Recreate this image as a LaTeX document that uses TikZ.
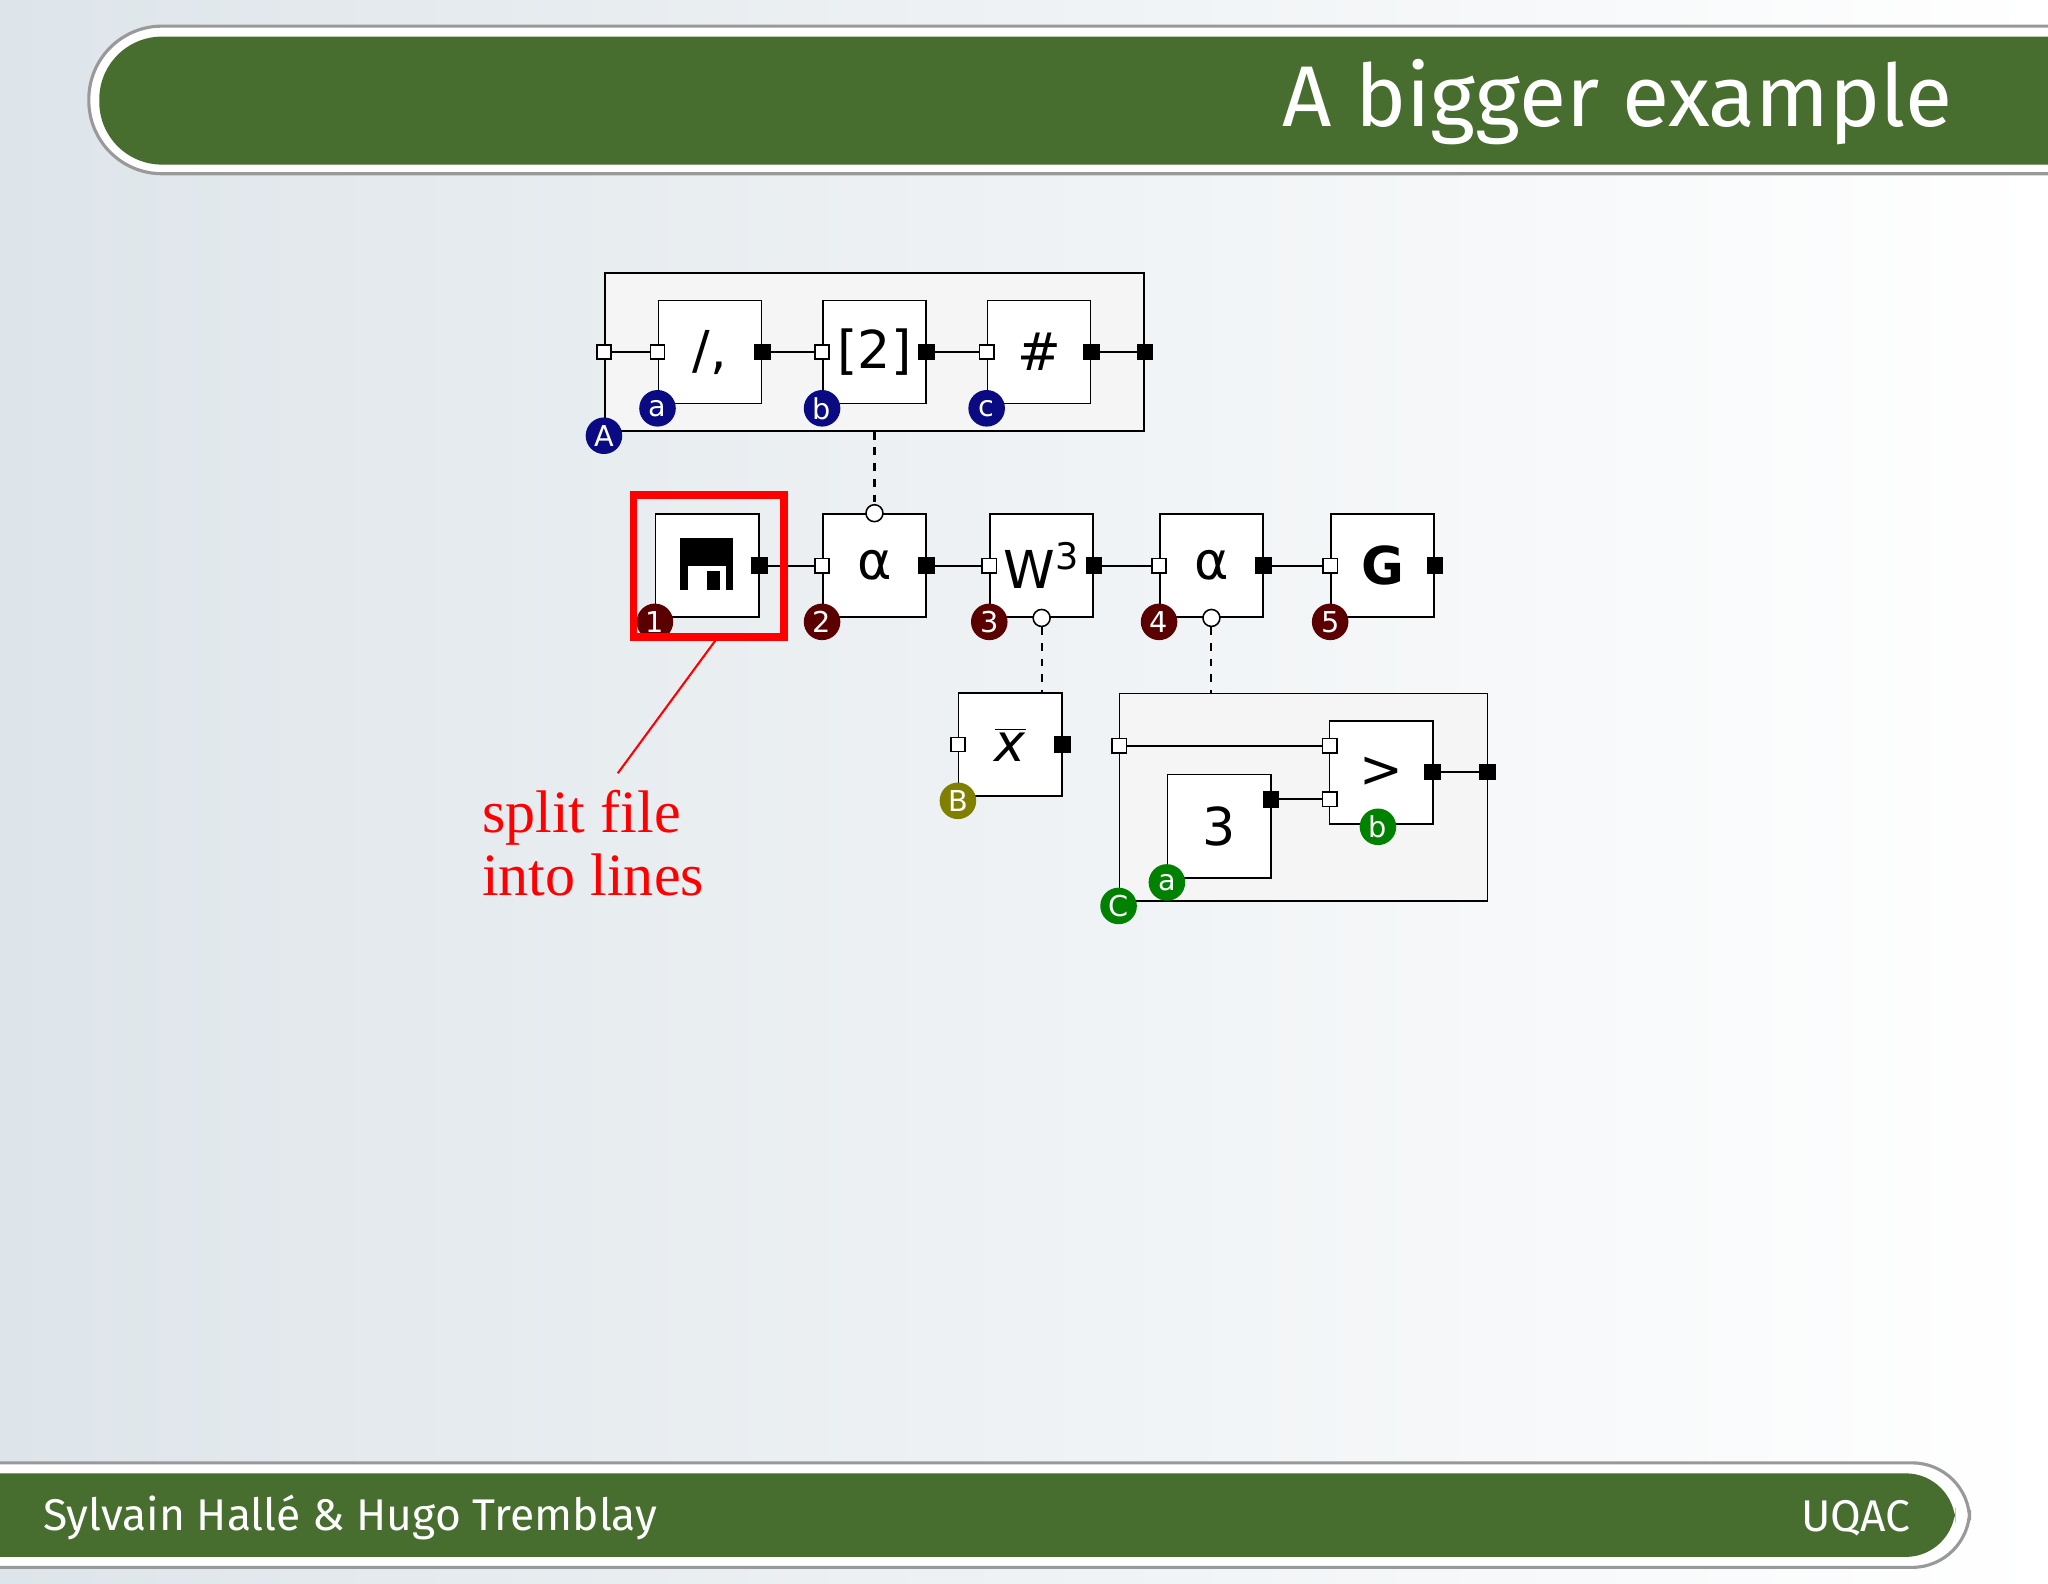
\documentclass[tikz,border=0pt]{standalone}
\usepackage{fontspec}
\setmainfont{DejaVu Sans}
\newfontfamily\serifface{Liberation Serif}
\newfontfamily\barface{Fira Sans}
\begin{document}
\begin{tikzpicture}[x=0.5pt,y=-0.5pt,
  proc/.style={draw,fill=white,minimum size=39.5pt,inner sep=0pt,line width=0.6pt,font=\fontsize{20}{22}\selectfont},
  group/.style={draw,fill=gray!8,inner sep=0pt,line width=0.6pt},
  inport/.style={draw,fill=white,minimum size=5.5pt,inner sep=0pt,line width=0.6pt},
  outport/.style={draw,fill=black,minimum size=6pt,inner sep=0pt},
  pull/.style={draw,fill=white,circle,minimum size=6.5pt,inner sep=0pt,line width=0.6pt},
  tag/.style={circle,minimum size=14pt,inner sep=0pt,text=white,yshift=-1.5pt,font=\fontsize{11}{11}\selectfont},
  pipe/.style={line width=0.8pt},
  ctrl/.style={line width=0.8pt,dashed}]
\definecolor{barGreen}{RGB}{71,109,47}
\definecolor{tagBlue}{RGB}{10,10,130}
\definecolor{tagRed}{RGB}{90,0,0}
\definecolor{tagGreen}{RGB}{0,130,0}
\definecolor{tagOlive}{RGB}{128,128,0}
\useasboundingbox (0,0) rectangle (1568,1212);
\begin{scope}
\clip (0,0) rectangle (1568,1212);
\shade[left color={rgb,255:red,222;green,229;blue,234},right color=white] (0,0) rectangle (1568,1212);
% title bar
\filldraw[fill=white,draw=gray!80,line width=1.2pt,rounded corners=28pt] (1650,20) rectangle (68,133);
\fill[barGreen,rounded corners=24pt] (1650,28) rectangle (76,126);
\node[anchor=east,text=white,font=\barface\fontsize{33}{33}\selectfont] (title) at (1502,78) {A bigger example};
% footer bar
\filldraw[fill=white,draw=gray!80,line width=1.2pt,rounded corners=22pt] (-50,1120) rectangle (1508,1200);
\fill[barGreen,rounded corners=19pt] (-50,1128) rectangle (1497,1192);
\node[anchor=west,text=white,font=\barface\fontsize{17}{17}\selectfont] (authors) at (26,1162) {Sylvain Hallé \& Hugo Tremblay};
\node[anchor=east,text=white,font=\barface\fontsize{17}{17}\selectfont] (uqac) at (1470,1162) {UQAC};
\end{scope}

% group A
\node[group,minimum width=206.5pt,minimum height=60.5pt] (gA) at (669.5,269.5) {};
\node[proc] (a1) at (543.5,269.5) {/,};
\node[proc] (a2) at (669.5,269.5) {[2]};
\node[proc] (a3) at (795.5,269.5) {\#};
\node[inport] (gAi) at (gA.west) {};
\node[outport] (gAo) at (gA.east) {};
\foreach \n in {a1,a2,a3}{
  \node[inport] (\n i) at (\n.west) {};
  \node[outport] (\n o) at (\n.east) {};
}
\draw[pipe] (gAi) -- (a1i);
\draw[pipe] (a1o) -- (a2i);
\draw[pipe] (a2o) -- (a3i);
\draw[pipe] (a3o) -- (gAo);
\node[tag,fill=tagBlue] (tA) at (gA.south west) {A};
\node[tag,fill=tagBlue] (ta1) at (a1.south west) {a};
\node[tag,fill=tagBlue] (ta2) at (a2.south west) {b};
\node[tag,fill=tagBlue] (ta3) at (a3.south west) {c};

% main chain
\node[proc] (r1) at (541.5,433) {};
\node[proc] (r2) at (669.5,433) {α};
\node[proc] (r3) at (797.5,433) {W\textsuperscript{3}};
\node[proc] (r4) at (927.5,433) {α};
\node[proc] (r5) at (1058.5,433) {\textbf{G}};
\fill (521,412) rectangle (561,452);
\fill[white] (527,433) rectangle (556,452);
\fill (541,437) rectangle (551,452);
\node[outport] (r1o) at (r1.east) {};
\foreach \n in {r2,r3,r4,r5}{
  \node[inport] (\n i) at (\n.west) {};
  \node[outport] (\n o) at (\n.east) {};
}
\draw[pipe] (r1o) -- (r2i);
\draw[pipe] (r2o) -- (r3i);
\draw[pipe] (r3o) -- (r4i);
\draw[pipe] (r4o) -- (r5i);
\node[tag,fill=tagRed] (t1) at (r1.south west) {1};
\node[tag,fill=tagRed] (t2) at (r2.south west) {2};
\node[tag,fill=tagRed] (t3) at (r3.south west) {3};
\node[tag,fill=tagRed] (t4) at (r4.south west) {4};
\node[tag,fill=tagRed] (t5) at (r5.south west) {5};

% mean
\node[proc] (xb) at (773.5,570) {$\overline{\mbox{\itshape x}}$};
\node[inport] (xbi) at (xb.west) {};
\node[outport] (xbo) at (xb.east) {};
\node[tag,fill=tagOlive] (tB) at (xb.south west) {B};

% group C
\node[group,minimum width=141pt,minimum height=79.5pt] (gC) at (998,610.5) {};
\node[proc] (c1) at (933.5,632.5) {3};
\node[proc] (c2) at (1057.5,591.5) {>};
\node[inport] (gCi) at (857,571) {};
\node[outport] (gCo) at (1139,591) {};
\node[outport] (c1o) at (973,612) {};
\node[inport] (c2i1) at (1018,571) {};
\node[inport] (c2i2) at (1018,612) {};
\node[outport] (c2o) at (1097,591) {};
\draw[pipe] (gCi) -- (c2i1);
\draw[pipe] (c1o) -- (c2i2);
\draw[pipe] (c2o) -- (gCo);
\node[tag,fill=tagGreen] (tC) at (gC.south west) {C};
\node[tag,fill=tagGreen] (tc1) at (c1.south west) {a};
\node[tag,fill=tagGreen] (tc2) at (1055,630) {b};

% control links
\node[pull] (r2p) at (r2.north) {};
\node[pull] (r3p) at (r3.south) {};
\node[pull] (r4p) at (r4.south) {};
\draw[ctrl] (gA.south -| r2p) -- (r2p);
\draw[ctrl] (r3p) -- (xb.north -| r3p);
\draw[ctrl] (r4p) -- (gC.north -| r4p);

% highlight
\node[draw=red,line width=3pt,minimum width=57.5pt,minimum height=54.5pt,inner sep=0pt] (hl) at (542.5,433.5) {};
\coordinate (lineEnd) at (473,592);
\draw[red,line width=0.8pt] (548,490) -- (lineEnd);
\node[anchor=north west,text=red,align=left,font=\serifface\fontsize{23}{24}\selectfont] (note) at (362,598) {split file\\into lines};
\end{tikzpicture}
\end{document}
